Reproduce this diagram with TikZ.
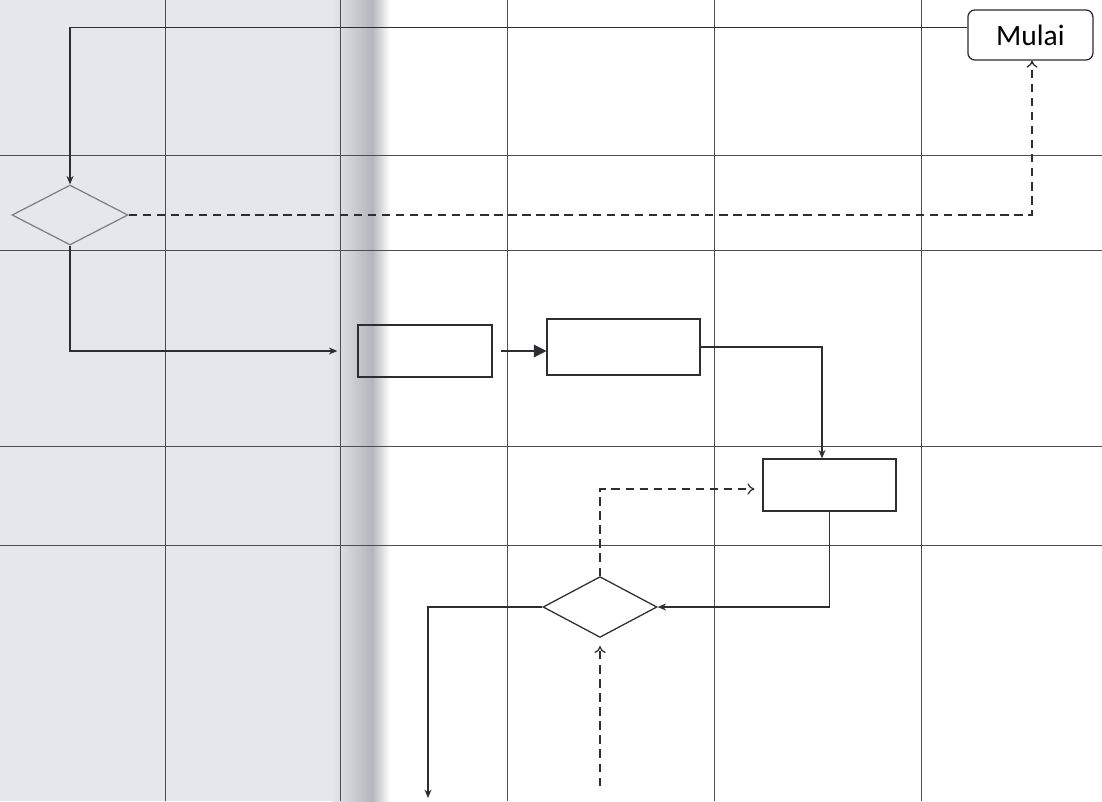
\documentclass[tikz,border=0pt]{standalone}
\usepackage{fontspec}
\setmainfont{Carlito}
\usetikzlibrary{arrows.meta,shapes.geometric,positioning,calc}

\definecolor{paper}{RGB}{229,231,237}
\definecolor{gutter}{RGB}{180,182,188}
\definecolor{ink}{RGB}{45,45,50}

\begin{document}
\begin{tikzpicture}[
    grid/.style={draw=ink!85, line width=0.6pt},
    proc/.style={draw=ink, line width=0.9pt, minimum width=#1, minimum height=1.3cm, inner sep=0pt},
    proc/.default=3.35cm,
    decision/.style={draw=ink, line width=0.9pt, diamond, minimum width=2.85cm, minimum height=1.52cm, inner sep=0pt},
    terminal/.style={draw=ink, line width=0.9pt, rounded corners=5pt, minimum width=3.125cm, minimum height=1.25cm, font=\fontsize{21}{25}\selectfont},
    flow/.style={-{Stealth[length=6pt,width=5pt]}, line width=0.9pt, draw=ink},
    dflow/.style={-{To[length=5pt,width=8pt]}, line width=0.9pt, draw=ink, dash pattern=on 6pt off 4pt}
]
\useasboundingbox (0,0) rectangle (27.55,-20.025);

% scanned page background with gutter
\fill[paper] (0,0) rectangle (8.3,-20.025);
\shade[left color=paper, right color=gutter] (8.3,0) rectangle (9.3,-20.025);
\shade[left color=gutter, right color=white] (9.3,0) rectangle (9.75,-20.025);

% swimlane grid
\foreach \y in {-3.875,-6.25,-11.15,-13.625}
    \draw[grid] (0,\y) -- (27.55,\y);
\foreach \x in {4.125,8.5,12.675,17.85,23.025}
    \draw[grid] (\x,0) -- (\x,-20.025);

% nodes
\node[terminal] (mulai) at (25.76,-0.875) {Mulai};
\node[decision, draw=ink!60, minimum width=2.9cm, minimum height=1.5cm] (cek1) at (1.75,-5.375) {};
\node[proc] (box1) at (10.625,-8.775) {};
\node[proc=3.825cm, minimum height=1.4cm] (box2) at (15.59,-8.675) {};
\node[proc=3.325cm] (box3) at (20.74,-12.125) {};
\node[decision] (cek2) at (15.0,-15.175) {};
\coordinate (keluar) at (10.7,-19.95);
\coordinate (masuk) at (15.0,-19.65);

% connectors
\draw[flow] ([yshift=0.18cm]mulai.west) -| (cek1.north);
\draw[dflow] (cek1.east) -| ([xshift=0.04cm]mulai.south);
\draw[flow, shorten >=0.5cm] (cek1.south) |- (box1.west);
\draw[-{Triangle[length=9pt,width=9pt]}, line width=0.9pt, draw=ink, shorten <=0.2cm] (box1.east) -- (box1.east -| box2.west);
\draw[flow] (box2.east) -| ($(box3.north)+(-0.19,0)$);
\draw[flow] (box3.south) |- (cek2.east);
\draw[dflow, shorten >=0.2cm] (cek2.north) |- ($(box3.west)+(0,-0.1)$);
\draw[flow] (cek2.west) -| (keluar);
\draw[dflow, shorten >=0.2cm] (masuk) -- (cek2.south);
\end{tikzpicture}
\end{document}
